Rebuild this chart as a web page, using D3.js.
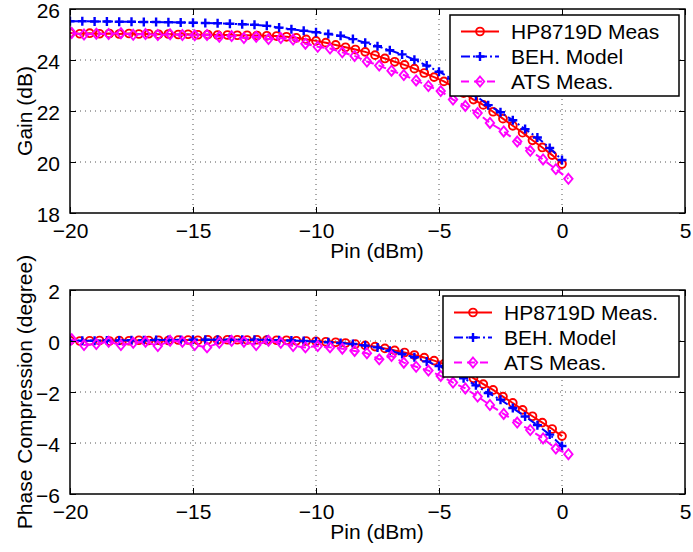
<!DOCTYPE html>
<html>
<head>
<meta charset="utf-8">
<script src="https://cdn.jsdelivr.net/npm/d3@7"></script>
<style>
  html, body { margin: 0; padding: 0; background: #fff; }
  svg { display: block; }
  text { font-family: "Liberation Sans", Arial, Helvetica, sans-serif; fill: #000; }
</style>
</head>
<body>
<svg id="chart" width="693" height="552"></svg>
<script>
// Input power sweeps (dBm) for each instrument / model
const pinHP = [-20.0,-19.6,-19.2,-18.8,-18.4,-18.0,-17.6,-17.2,-16.8,-16.4,-16.0,-15.6,-15.2,-14.8,-14.4,-14.0,-13.6,-13.2,-12.8,-12.4,-12.0,-11.6,-11.2,-10.8,-10.4,-10.0,-9.6,-9.2,-8.8,-8.4,-8.0,-7.6,-7.2,-6.8,-6.4,-6.0,-5.6,-5.2,-4.8,-4.4,-4.0,-3.6,-3.2,-2.8,-2.4,-2.0,-1.6,-1.2,-0.8,-0.4,0.0];
const pinBEH = [-20.0,-19.5,-19.0,-18.5,-18.0,-17.5,-17.0,-16.5,-16.0,-15.5,-15.0,-14.5,-14.0,-13.5,-13.0,-12.5,-12.0,-11.5,-11.0,-10.5,-10.0,-9.5,-9.0,-8.5,-8.0,-7.5,-7.0,-6.5,-6.0,-5.5,-5.0,-4.5,-4.0,-3.5,-3.0,-2.5,-2.0,-1.5,-1.0,-0.5,0.0];
const pinATS = [-19.93,-19.43,-18.93,-18.43,-17.93,-17.43,-16.93,-16.43,-15.93,-15.43,-14.93,-14.43,-13.93,-13.43,-12.93,-12.43,-11.93,-11.43,-10.93,-10.43,-9.93,-9.43,-8.93,-8.43,-7.93,-7.43,-6.93,-6.43,-5.93,-5.43,-4.93,-4.43,-3.93,-3.43,-2.93,-2.37,-1.82,-1.29,-0.77,-0.25,0.26];

// Gain (dB)
const gainHP = [25.06,25.03,25.05,25.03,25.04,25.02,25.04,25.02,25.03,25.01,25.02,25.00,25.01,24.99,25.00,24.98,24.98,24.97,24.97,24.96,24.95,24.94,24.91,24.87,24.81,24.75,24.68,24.59,24.50,24.41,24.32,24.19,24.06,23.93,23.81,23.66,23.49,23.33,23.16,22.94,22.70,22.45,22.24,21.97,21.70,21.42,21.15,20.85,20.57,20.27,19.92];
const gainBEH = [25.52,25.52,25.51,25.51,25.50,25.50,25.49,25.49,25.48,25.47,25.46,25.45,25.44,25.42,25.40,25.38,25.34,25.27,25.21,25.15,25.09,25.02,24.95,24.82,24.68,24.54,24.38,24.22,24.01,23.78,23.54,23.27,22.95,22.60,22.23,21.95,21.64,21.29,20.96,20.55,20.08];
const gainATS = [25.06,25.00,25.03,25.02,25.05,24.99,25.02,24.98,25.01,24.98,24.97,24.98,24.91,24.94,24.86,24.91,24.82,24.86,24.80,24.64,24.52,24.45,24.30,24.16,23.94,23.78,23.58,23.41,23.20,22.98,22.78,22.45,22.20,21.92,21.53,21.20,20.80,20.44,20.10,19.72,19.34];

// Phase compression (degree)
const phaseHP = [0.02,0.00,0.01,0.02,0.00,0.02,0.01,0.03,0.02,0.03,0.02,0.04,0.04,0.03,0.05,0.04,0.05,0.05,0.04,0.05,0.04,0.03,0.03,0.01,0.00,-0.01,-0.03,-0.05,-0.08,-0.12,-0.17,-0.22,-0.29,-0.37,-0.45,-0.55,-0.65,-0.77,-0.90,-1.06,-1.25,-1.46,-1.69,-1.92,-2.18,-2.43,-2.70,-2.95,-3.20,-3.45,-3.73];
const phaseBEH = [0.00,0.01,0.01,0.02,0.02,0.03,0.03,0.04,0.04,0.04,0.05,0.05,0.05,0.05,0.05,0.05,0.04,0.03,0.02,0.00,-0.02,-0.05,-0.08,-0.12,-0.18,-0.25,-0.38,-0.51,-0.64,-0.80,-0.98,-1.20,-1.46,-1.74,-2.04,-2.30,-2.63,-2.96,-3.30,-3.67,-4.12];
const phaseATS = [0.07,-0.16,-0.12,-0.03,-0.16,-0.07,-0.03,-0.20,0.01,-0.03,-0.16,-0.25,-0.07,0.01,-0.03,-0.16,0.01,-0.07,-0.20,-0.25,-0.20,-0.25,-0.30,-0.39,-0.48,-0.72,-0.59,-0.85,-1.01,-1.16,-1.37,-1.63,-1.86,-2.18,-2.51,-2.86,-3.20,-3.49,-3.82,-4.22,-4.44];

// Axis ticks and labels
const xTicks = [-20, -15, -10, -5, 0, 5];
const gainTicks = [18, 20, 22, 24, 26];
const phaseTicks = [-6, -4, -2, 0, 2];
const xLabel = "Pin (dBm)";
const gainLabel = "Gain (dB)";
const phaseLabel = "Phase Compression (degree)";
const gainLegend = ["HP8719D Meas", "BEH. Model", "ATS Meas."];
const phaseLegend = ["HP8719D Meas.", "BEH. Model", "ATS Meas."];

const svg = d3.select("#chart");
const FONT = 21;

const styles = [
  { color: "#ff0000", dash: null, marker: "circle" },
  { color: "#0000ff", dash: "9,3,2,3", marker: "plus" },
  { color: "#ff00ff", dash: "8,5", marker: "diamond" }
];

function markerPath(type) {
  if (type === "plus") return "M-4.5,0H4.5M0,-4.5V4.5";
  return "M0,-5L4.2,0L0,5L-4.2,0Z";
}

function drawMarker(g, type, color, x, y) {
  if (type === "circle") {
    g.append("circle").attr("cx", x).attr("cy", y).attr("r", 3.9)
      .attr("fill", "none").attr("stroke", color).attr("stroke-width", 1.9);
  } else {
    g.append("path").attr("transform", `translate(${x},${y})`)
      .attr("d", markerPath(type))
      .attr("fill", "none").attr("stroke", color).attr("stroke-width", type === "plus" ? 2.4 : 1.9);
  }
}

function panel(opts) {
  const { top, bottom, yDomain, yTicks, series, yLabel, legend, legendBox, id } = opts;
  const x = d3.scaleLinear().domain([-20, 5]).range([70, 685]);
  const y = d3.scaleLinear().domain(yDomain).range([bottom, top]);
  const g = svg.append("g");

  // dotted grid
  const grid = g.append("g").attr("stroke", "#555").attr("stroke-width", 1).attr("stroke-dasharray", "1,4");
  xTicks.slice(1, -1).forEach(t => grid.append("line")
    .attr("x1", x(t)).attr("x2", x(t)).attr("y1", top).attr("y2", bottom));
  yTicks.slice(1, -1).forEach(t => grid.append("line")
    .attr("x1", 70).attr("x2", 685).attr("y1", y(t)).attr("y2", y(t)));

  // data
  g.append("clipPath").attr("id", id).append("rect")
    .attr("x", 70).attr("y", top).attr("width", 615).attr("height", bottom - top);
  const plot = g.append("g").attr("clip-path", `url(#${id})`);
  series.forEach((s, i) => {
    const st = styles[i];
    const pts = s.x.map((v, k) => [v, s.y[k]]);
    const line = d3.line().x(d => x(d[0])).y(d => y(d[1]));
    plot.append("path").attr("d", line(pts)).attr("fill", "none")
      .attr("stroke", st.color).attr("stroke-width", 2)
      .attr("stroke-dasharray", st.dash);
    const mg = plot.append("g");
    pts.forEach(d => drawMarker(mg, st.marker, st.color, x(d[0]), y(d[1])));
  });

  // axes with inward ticks on all four sides
  const fmt = d3.format("");
  const axB = g.append("g").attr("transform", `translate(0,${bottom})`)
    .call(d3.axisBottom(x).tickValues(xTicks).tickSizeInner(-6).tickSizeOuter(0).tickPadding(10).tickFormat(fmt));
  const axT = g.append("g").attr("transform", `translate(0,${top})`)
    .call(d3.axisTop(x).tickValues(xTicks).tickSizeInner(-6).tickSizeOuter(0).tickFormat(""));
  const axL = g.append("g").attr("transform", `translate(70,0)`)
    .call(d3.axisLeft(y).tickValues(yTicks).tickSizeInner(-6).tickSizeOuter(0).tickPadding(10).tickFormat(fmt));
  const axR = g.append("g").attr("transform", `translate(685,0)`)
    .call(d3.axisRight(y).tickValues(yTicks).tickSizeInner(-6).tickSizeOuter(0).tickFormat(""));
  [axB, axT, axL, axR].forEach(a => {
    a.select(".domain").remove();
    a.selectAll("line").attr("stroke", "#000").attr("stroke-width", 1);
    a.selectAll("text").attr("font-size", FONT)
      .attr("font-family", '"Liberation Sans", Arial, sans-serif').attr("fill", "#000");
  });
  axL.selectAll("text").attr("dy", "0.4em");
  g.append("rect").attr("x", 70).attr("y", top).attr("width", 615).attr("height", bottom - top)
    .attr("fill", "none").attr("stroke", "#000").attr("stroke-width", 1.5);

  // axis titles
  g.append("text").attr("x", 377).attr("y", bottom + 45)
    .attr("text-anchor", "middle").attr("font-size", FONT).text(xLabel);
  g.append("text").attr("transform", `translate(24,${(top + bottom) / 2}) rotate(-90)`)
    .attr("text-anchor", "middle").attr("dominant-baseline", "central")
    .attr("font-size", FONT).text(yLabel);

  // legend
  const lb = legendBox;
  const lg = g.append("g");
  lg.append("rect").attr("x", lb.x).attr("y", lb.y).attr("width", lb.w).attr("height", lb.h)
    .attr("fill", "#fff").attr("stroke", "#000").attr("stroke-width", 1.5);
  legend.forEach((name, i) => {
    const st = styles[i];
    const cy = lb.y + 16.5 + i * 25;
    lg.append("line").attr("x1", lb.x + 11).attr("x2", lb.x + 49).attr("y1", cy).attr("y2", cy)
      .attr("stroke", st.color).attr("stroke-width", 2).attr("stroke-dasharray", st.dash);
    drawMarker(lg, st.marker, st.color, lb.x + 30, cy);
    lg.append("text").attr("x", lb.x + 61).attr("y", cy).attr("dominant-baseline", "central")
      .attr("font-size", FONT).text(name);
  });
}

panel({
  id: "clipGain", top: 9, bottom: 213, yDomain: [18, 26], yTicks: gainTicks,
  series: [{ x: pinHP, y: gainHP }, { x: pinBEH, y: gainBEH }, { x: pinATS, y: gainATS }],
  yLabel: gainLabel, legend: gainLegend,
  legendBox: { x: 450, y: 15, w: 229, h: 81 }
});

panel({
  id: "clipPhase", top: 290, bottom: 494, yDomain: [-6, 2], yTicks: phaseTicks,
  series: [{ x: pinHP, y: phaseHP }, { x: pinBEH, y: phaseBEH }, { x: pinATS, y: phaseATS }],
  yLabel: phaseLabel, legend: phaseLegend,
  legendBox: { x: 443, y: 296, w: 236, h: 81 }
});
</script>
</body>
</html>
